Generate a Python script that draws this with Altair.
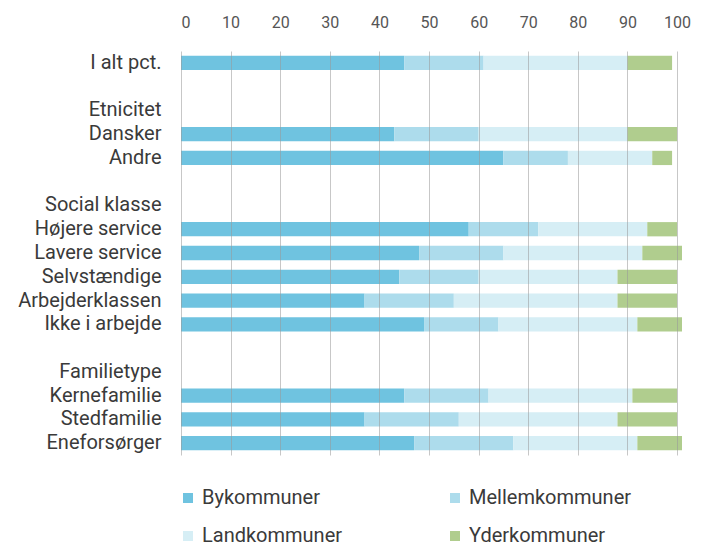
import altair as alt
import pandas as pd

categories = ["I alt pct.", "Dansker", "Andre", "Højere service", "Lavere service",
              "Selvstændige", "Arbejderklassen", "Ikke i arbejde",
              "Kernefamilie", "Stedfamilie", "Eneforsørger"]
series = ["Bykommuner", "Mellemkommuner", "Landkommuner", "Yderkommuner"]
bykommuner = [45, 43, 65, 58, 48, 44, 37, 49, 45, 37, 47]
mellemkommuner = [16, 17, 13, 14, 17, 16, 18, 15, 17, 19, 20]
landkommuner = [29, 30, 17, 22, 28, 28, 33, 28, 29, 32, 25]
yderkommuner = [9, 10, 4, 6, 8, 12, 12, 9, 9, 12, 9]
row_order = ["I alt pct.", " ", "Etnicitet", "Dansker", "Andre", "  ",
             "Social klasse", "Højere service", "Lavere service", "Selvstændige",
             "Arbejderklassen", "Ikke i arbejde", "   ", "Familietype",
             "Kernefamilie", "Stedfamilie", "Eneforsørger"]
x_ticks = list(range(0, 101, 10))
colors = ["#6FC3E0", "#ADDCEC", "#D6EEF5", "#B0CD8E"]

rows = []
for i, c in enumerate(categories):
    for j, vals in enumerate([bykommuner, mellemkommuner, landkommuner, yderkommuner]):
        rows.append({"kategori": c, "serie": series[j], "pct": vals[i], "ord": j})
df = pd.DataFrame(rows)

FONT = "Roboto"

chart = alt.Chart(df).mark_bar().encode(
    x=alt.X("pct:Q", stack="zero",
            scale=alt.Scale(domain=[0, 101], nice=False),
            axis=alt.Axis(orient="top", values=x_ticks, ticks=False, domain=False,
                          labelPadding=21, grid=True, gridColor="#999999",
                          gridOpacity=0.55, zindex=1, title=None,
                          labelFontSize=16, labelColor="#555555", labelFont=FONT)),
    y=alt.Y("kategori:N", sort=row_order,
            scale=alt.Scale(domain=row_order, paddingInner=0.4, paddingOuter=0.2),
            axis=alt.Axis(title=None, ticks=False, domain=False, labelPadding=20,
                          labelFontSize=20, labelColor="#3a3a3a", labelFont=FONT,
                          labelLimit=300)),
    color=alt.Color("serie:N", scale=alt.Scale(domain=series, range=colors),
                    legend=alt.Legend(orient="none", legendX=-3, legendY=437,
                                      columns=2, direction="horizontal",
                                      title=None, symbolType="square",
                                      symbolSize=100, symbolStrokeWidth=0,
                                      labelFontSize=20, labelFont=FONT,
                                      labelColor="#3a3a3a", labelLimit=300,
                                      columnPadding=102, rowPadding=18,
                                      labelOffset=4)),
    order=alt.Order("ord:Q"),
).properties(
    width=501, height=404,
    autosize=alt.AutoSizeParams(type="none"),
    padding={"left": 173, "top": 43, "right": 10, "bottom": 91},
).configure_view(stroke=None)

chart.save("out.html", embed_options={"renderer": "svg", "actions": False})
